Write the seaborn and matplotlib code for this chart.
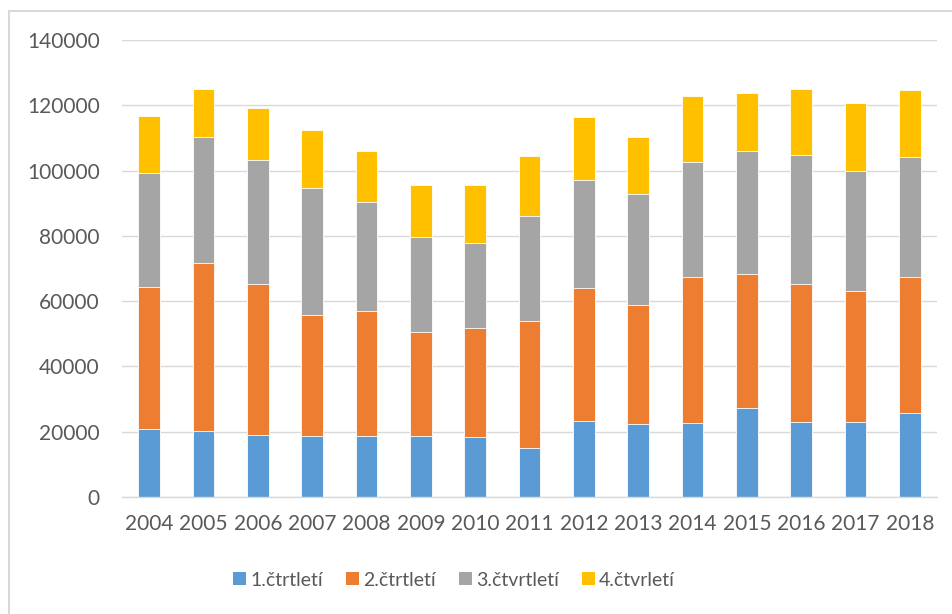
import numpy as np
import pandas as pd
import seaborn as sns
import matplotlib.pyplot as plt
from matplotlib.patches import Patch
from matplotlib.lines import Line2D

# data (quarterly values per year)
years = ["2004", "2005", "2006", "2007", "2008", "2009", "2010", "2011",
         "2012", "2013", "2014", "2015", "2016", "2017", "2018"]
q1 = [20700, 20300, 19100, 18700, 18700, 18700, 18300, 15100, 23400, 22300, 22600, 27300, 23000, 23000, 25800]
q2 = [43700, 51500, 46100, 37100, 38300, 31900, 33600, 38700, 40600, 36500, 44900, 41000, 42200, 40100, 41700]
q3 = [35000, 38600, 38100, 38900, 33300, 29200, 25900, 32200, 33100, 33900, 35100, 37800, 39700, 36700, 36600]
q4 = [17300, 14600, 15800, 17700, 15800, 15700, 17700, 18600, 19200, 17700, 20100, 17700, 20000, 20800, 20500]
labels = ["1.čtrtletí", "2.čtrtletí", "3.čtvrtletí", "4.čtvrletí"]
colors = ["#5B9BD5", "#ED7D31", "#A5A5A5", "#FFC000"]
yticks = [0, 20000, 40000, 60000, 80000, 100000, 120000, 140000]

sns.set_theme(style="white")
plt.rcParams["font.family"] = ["Lato", "DejaVu Sans"]
txt = "#595959"

df = pd.DataFrame({"year": years, "q1": q1, "q2": q2, "q3": q3, "q4": q4})
cum = df[["q1", "q2", "q3", "q4"]].cumsum(axis=1)

fig = plt.figure(figsize=(9.52, 6.14), dpi=100)
ax = fig.add_axes([122 / 952, 1 - 497 / 614, (937 - 122) / 952, (497 - 40) / 614])

# stacked bars: draw the totals first, lower segments on top
for i in [3, 2, 1, 0]:
    sns.barplot(x=df["year"], y=cum.iloc[:, i], color=colors[i], width=0.4,
                edgecolor="white", linewidth=0.6, saturation=1, ax=ax)

ax.set_ylim(0, 140000)
ax.set_yticks(yticks)
ax.set_yticklabels([str(v) for v in yticks])
ax.set_xlabel("")
ax.set_ylabel("")
ax.yaxis.grid(True, color="#D9D9D9", linewidth=1.0)
ax.set_axisbelow(True)
for s in ["left", "right", "top"]:
    ax.spines[s].set_visible(False)
ax.spines["bottom"].set_color("#D9D9D9")
ax.spines["bottom"].set_linewidth(1.0)
ax.tick_params(axis="both", length=0, labelsize=15, labelcolor=txt)
ax.tick_params(axis="y", pad=16)
ax.tick_params(axis="x", pad=12)

handles = [Patch(facecolor=c, edgecolor="none") for c in colors]
fig.legend(handles, labels, loc="center", bbox_to_anchor=(454 / 952, 1 - 580 / 614),
           ncol=4, frameon=False, fontsize=14, labelcolor=txt,
           handlelength=0.67, handleheight=0.67, handletextpad=0.2, columnspacing=1.2)

# chart frame
fig.add_artist(Line2D([9 / 952, 9 / 952], [0, 1 - 11 / 614], color="#D9D9D9", linewidth=1.5))
fig.add_artist(Line2D([9 / 952, 1], [1 - 11 / 614, 1 - 11 / 614], color="#D9D9D9", linewidth=1.5))

fig.savefig("out.png", dpi=100)
